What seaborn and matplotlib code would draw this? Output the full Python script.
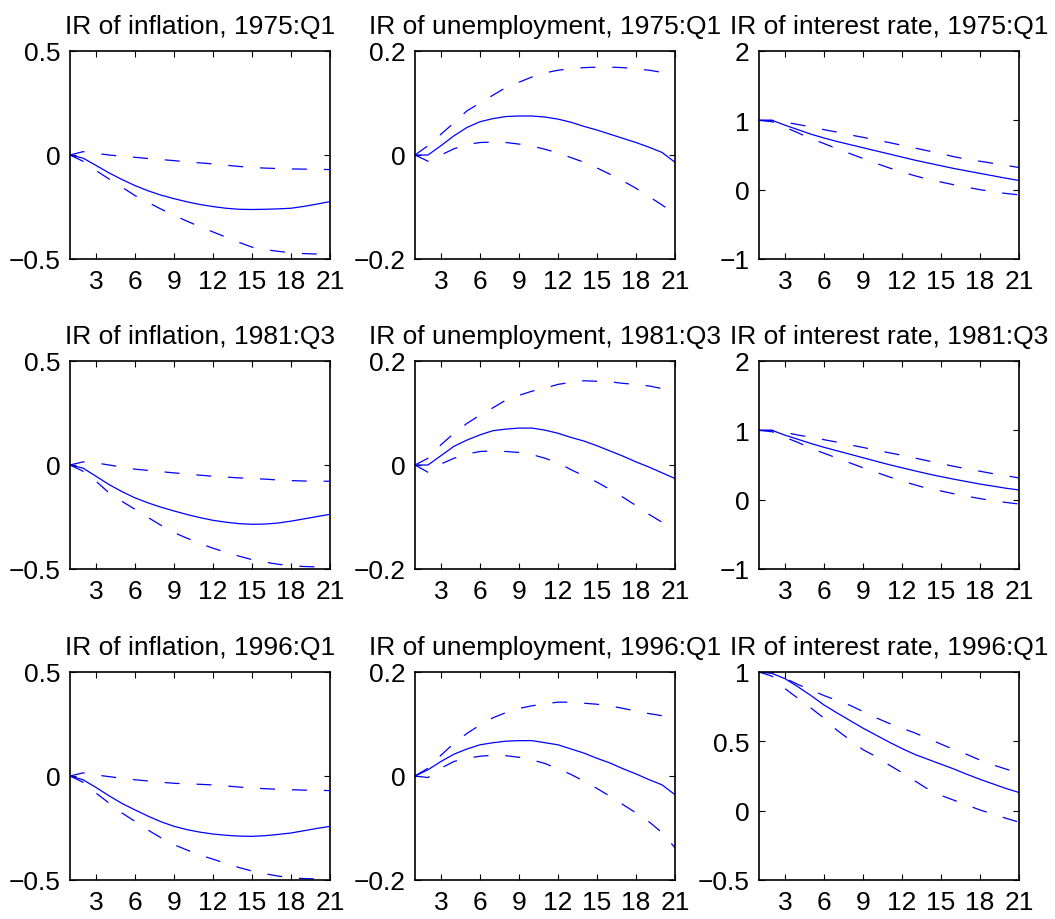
import numpy as np
import pandas as pd
import matplotlib
matplotlib.use("Agg")
import matplotlib.pyplot as plt
import seaborn as sns

# Horizons (quarters)
horizon = list(range(1, 22))
xticks = [3, 6, 9, 12, 15, 18, 21]

# Impulse responses: median with upper and lower bands
# ---- 1975:Q1 ----
infl_1975 = [0, -0.015, -0.05, -0.086, -0.118, -0.147, -0.172, -0.193, -0.21, -0.225, -0.238,
             -0.248, -0.256, -0.261, -0.262, -0.261, -0.259, -0.256, -0.247, -0.236, -0.224]
infl_1975_hi = [0, 0.016, 0.008, 0.0, -0.006, -0.011, -0.017, -0.022, -0.027, -0.033, -0.038,
                -0.043, -0.049, -0.055, -0.06, -0.063, -0.065, -0.067, -0.068, -0.069, -0.07]
infl_1975_lo = [0, -0.03, -0.075, -0.115, -0.155, -0.195, -0.228, -0.26, -0.29, -0.318, -0.345,
                -0.37, -0.395, -0.42, -0.443, -0.455, -0.463, -0.47, -0.474, -0.476, -0.477]

unemp_1975 = [0, 0, 0.018, 0.037, 0.053, 0.064, 0.07, 0.074, 0.075, 0.075, 0.073,
              0.069, 0.063, 0.055, 0.048, 0.04, 0.032, 0.024, 0.015, 0.005, -0.014]
unemp_1975_hi = [0, 0.018, 0.04, 0.062, 0.085, 0.1, 0.115, 0.13, 0.14, 0.15, 0.158,
                 0.163, 0.166, 0.168, 0.169, 0.169, 0.168, 0.166, 0.163, 0.159, 0.154]
unemp_1975_lo = [0, -0.012, 0.0, 0.012, 0.02, 0.024, 0.025, 0.024, 0.021, 0.017, 0.011,
                 0.004, -0.005, -0.014, -0.025, -0.037, -0.05, -0.064, -0.08, -0.096, -0.114]

rate_1975 = [1, 1, 0.93, 0.865, 0.8, 0.745, 0.695, 0.65, 0.605, 0.56, 0.515,
             0.47, 0.425, 0.385, 0.345, 0.305, 0.27, 0.235, 0.2, 0.165, 0.133]
rate_1975_hi = [1, 1.0, 0.975, 0.94, 0.905, 0.865, 0.83, 0.79, 0.755, 0.715, 0.68,
                0.64, 0.6, 0.56, 0.52, 0.475, 0.44, 0.41, 0.38, 0.35, 0.32]
rate_1975_lo = [1, 0.98, 0.9, 0.82, 0.735, 0.665, 0.59, 0.52, 0.45, 0.38, 0.315,
                0.255, 0.2, 0.15, 0.11, 0.07, 0.035, 0.0, -0.03, -0.055, -0.075]

# ---- 1981:Q3 ----
infl_1981 = [0, -0.015, -0.054, -0.094, -0.128, -0.158, -0.182, -0.203, -0.221, -0.238, -0.253,
             -0.266, -0.275, -0.282, -0.285, -0.284, -0.279, -0.27, -0.259, -0.248, -0.237]
infl_1981_hi = [0, 0.015, 0.01, 0.0, -0.01, -0.02, -0.026, -0.032, -0.038, -0.043, -0.049,
                -0.054, -0.058, -0.062, -0.065, -0.068, -0.072, -0.075, -0.077, -0.078, -0.078]
infl_1981_lo = [0, -0.03, -0.078, -0.134, -0.175, -0.213, -0.252, -0.29, -0.325, -0.352, -0.377,
                -0.4, -0.42, -0.438, -0.455, -0.467, -0.477, -0.484, -0.488, -0.49, -0.49]

unemp_1981 = [0, 0, 0.018, 0.036, 0.048, 0.058, 0.066, 0.069, 0.071, 0.071, 0.067,
              0.061, 0.053, 0.046, 0.037, 0.027, 0.017, 0.006, -0.004, -0.015, -0.026]
unemp_1981_hi = [0, 0.013, 0.039, 0.061, 0.08, 0.096, 0.11, 0.125, 0.134, 0.142, 0.148,
                 0.155, 0.159, 0.162, 0.161, 0.16, 0.157, 0.155, 0.152, 0.147, 0.143]
unemp_1981_lo = [0, -0.014, 0.002, 0.013, 0.021, 0.026, 0.027, 0.026, 0.024, 0.02, 0.013,
                 0.004, -0.009, -0.021, -0.033, -0.047, -0.062, -0.078, -0.095, -0.11, -0.125]

rate_1981 = [1, 1, 0.93, 0.87, 0.81, 0.755, 0.705, 0.655, 0.605, 0.555, 0.505,
             0.46, 0.415, 0.372, 0.332, 0.295, 0.26, 0.225, 0.195, 0.165, 0.14]
rate_1981_hi = [1, 1.0, 0.97, 0.932, 0.9, 0.865, 0.83, 0.79, 0.753, 0.715, 0.677,
                0.64, 0.6, 0.56, 0.52, 0.48, 0.445, 0.41, 0.375, 0.345, 0.314]
rate_1981_lo = [1, 0.98, 0.9, 0.825, 0.74, 0.67, 0.6, 0.53, 0.46, 0.395, 0.33,
                0.27, 0.213, 0.16, 0.125, 0.085, 0.05, 0.015, -0.015, -0.04, -0.063]

# ---- 1996:Q1 ----
infl_1996 = [0, -0.018, -0.055, -0.095, -0.132, -0.163, -0.193, -0.22, -0.242, -0.258, -0.27,
             -0.279, -0.285, -0.289, -0.29, -0.287, -0.281, -0.274, -0.263, -0.252, -0.242]
infl_1996_hi = [0, 0.015, 0.005, -0.003, -0.011, -0.018, -0.024, -0.03, -0.035, -0.038, -0.04,
                -0.043, -0.048, -0.053, -0.058, -0.061, -0.064, -0.066, -0.068, -0.069, -0.07]
infl_1996_lo = [0, -0.03, -0.082, -0.13, -0.178, -0.218, -0.26, -0.297, -0.33, -0.356, -0.38,
                -0.4, -0.42, -0.44, -0.457, -0.47, -0.481, -0.49, -0.493, -0.495, -0.496]

unemp_1996 = [0, 0.012, 0.028, 0.042, 0.052, 0.06, 0.064, 0.067, 0.068, 0.068, 0.064,
              0.06, 0.052, 0.044, 0.034, 0.025, 0.014, 0.004, -0.007, -0.017, -0.036]
unemp_1996_hi = [0, 0.015, 0.04, 0.063, 0.082, 0.098, 0.112, 0.122, 0.13, 0.135, 0.139,
                 0.142, 0.142, 0.14, 0.138, 0.135, 0.13, 0.125, 0.12, 0.116, 0.113]
unemp_1996_lo = [0, -0.003, 0.015, 0.028, 0.034, 0.038, 0.04, 0.039, 0.036, 0.031, 0.024,
                 0.014, 0.003, -0.01, -0.024, -0.039, -0.055, -0.071, -0.088, -0.109, -0.138]

rate_1996 = [1, 0.99, 0.952, 0.893, 0.83, 0.762, 0.705, 0.65, 0.595, 0.545, 0.495,
             0.448, 0.405, 0.37, 0.335, 0.3, 0.262, 0.226, 0.193, 0.16, 0.131]
rate_1996_hi = [1, 1.0, 0.955, 0.91, 0.87, 0.83, 0.795, 0.76, 0.715, 0.67, 0.63,
                0.595, 0.56, 0.52, 0.48, 0.44, 0.405, 0.365, 0.33, 0.3, 0.27]
rate_1996_lo = [1, 0.97, 0.88, 0.81, 0.74, 0.667, 0.58, 0.51, 0.44, 0.39, 0.33,
                0.274, 0.214, 0.155, 0.11, 0.075, 0.04, 0.005, -0.025, -0.055, -0.083]

dates = ["1975:Q1", "1981:Q3", "1996:Q1"]
variables = ["inflation", "unemployment", "interest rate"]

responses = {
    ("inflation", "1975:Q1"): (infl_1975, infl_1975_hi, infl_1975_lo),
    ("unemployment", "1975:Q1"): (unemp_1975, unemp_1975_hi, unemp_1975_lo),
    ("interest rate", "1975:Q1"): (rate_1975, rate_1975_hi, rate_1975_lo),
    ("inflation", "1981:Q3"): (infl_1981, infl_1981_hi, infl_1981_lo),
    ("unemployment", "1981:Q3"): (unemp_1981, unemp_1981_hi, unemp_1981_lo),
    ("interest rate", "1981:Q3"): (rate_1981, rate_1981_hi, rate_1981_lo),
    ("inflation", "1996:Q1"): (infl_1996, infl_1996_hi, infl_1996_lo),
    ("unemployment", "1996:Q1"): (unemp_1996, unemp_1996_hi, unemp_1996_lo),
    ("interest rate", "1996:Q1"): (rate_1996, rate_1996_hi, rate_1996_lo),
}

# y-axis settings for each panel
ylims = {
    "inflation": [(-0.5, 0.5)] * 3,
    "unemployment": [(-0.2, 0.2)] * 3,
    "interest rate": [(-1, 2), (-1, 2), (-0.5, 1)],
}
yticks = {
    "inflation": [[-0.5, 0, 0.5]] * 3,
    "unemployment": [[-0.2, 0, 0.2]] * 3,
    "interest rate": [[-1, 0, 1, 2], [-1, 0, 1, 2], [-0.5, 0, 0.5, 1]],
}

sns.set_style("ticks")
plt.rcParams["font.family"] = ["Liberation Sans", "DejaVu Sans"]
plt.rcParams["axes.unicode_minus"] = True
for key in ["text.color", "axes.labelcolor", "xtick.color", "ytick.color", "axes.edgecolor"]:
    plt.rcParams[key] = "black"

fig = plt.figure(figsize=(10.55, 9.2), dpi=100)

lefts = [70, 415, 759]
tops = [52, 362, 673]
W, H = 260, 208
FW, FH = 1055, 920

blue = (0, 0, 1)
LW = 0.9
dash = (0, (12, 13.5))

for r, date in enumerate(dates):
    for c, var in enumerate(variables):
        ax = fig.add_axes([lefts[c] / FW, 1 - (tops[r] + H) / FH, W / FW, H / FH])
        med, hi, lo = responses[(var, date)]
        df = pd.DataFrame({"h": horizon, "med": med, "hi": hi, "lo": lo})
        sns.lineplot(data=df, x="h", y="med", ax=ax, color=blue, lw=LW)
        sns.lineplot(data=df, x="h", y="hi", ax=ax, color=blue, lw=LW, linestyle=dash)
        sns.lineplot(data=df, x="h", y="lo", ax=ax, color=blue, lw=LW, linestyle=dash)
        ax.set_xlim(1, 21)
        ax.set_ylim(*ylims[var][r])
        ax.set_xticks(xticks)
        ax.set_yticks(yticks[var][r])
        ax.set_yticklabels([f"{t:g}".replace("-", "\u2212") for t in yticks[var][r]])
        ax.set_xlabel("")
        ax.set_ylabel("")
        ax.tick_params(direction="in", length=4, width=0.8, top=True, right=True,
                       labelsize=19, pad=7, color="black", labelcolor="black")
        for s in ax.spines.values():
            s.set_visible(True)
            s.set_linewidth(1.2)
            s.set_color("black")
        ax.set_title(f"IR of {var}, {date}", fontsize=19, pad=13, color="black")

fig.savefig("out.png", dpi=100, facecolor="white")
